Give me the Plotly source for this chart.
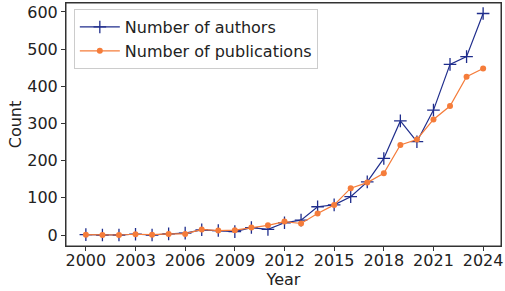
import plotly.graph_objects as go

years = list(range(2000, 2025))
authors = [1, 0, 0, 2, 0, 3, 5, 14, 12, 9, 20, 15, 33, 40, 76, 81, 103, 143, 206, 307, 251, 336, 459, 480, 596]
publications = [1, 0, 0, 2, 1, 3, 3, 15, 12, 13, 20, 26, 36, 31, 58, 81, 126, 141, 166, 242, 257, 311, 347, 426, 448]
xticks = [2000, 2003, 2006, 2009, 2012, 2015, 2018, 2021, 2024]
yticks = [0, 100, 200, 300, 400, 500, 600]

font = dict(family="DejaVu Sans", size=16, color="#222222")

fig = go.Figure()
fig.add_trace(go.Scatter(
    x=years, y=authors, mode="lines+markers", name="Number of authors",
    line=dict(color="#1f2d8c", width=1.2),
    marker=dict(symbol="cross-thin", size=9, line=dict(color="#1f2d8c", width=1.3)),
))
fig.add_trace(go.Scatter(
    x=years, y=publications, mode="lines+markers", name="Number of publications",
    line=dict(color="#f57c3a", width=1.2),
    marker=dict(symbol="circle", size=6, color="#f57c3a"),
))

axis_common = dict(
    showgrid=False, zeroline=False, showline=True, linecolor="#333333", linewidth=1,
    mirror=True, ticks="outside", ticklen=4, tickwidth=1, tickcolor="#333333",
    tickfont=font, title_font=font, ticklabeloverflow="allow",
)
fig.update_xaxes(range=[1998.8, 2025.08], tickvals=xticks, title_text="Year",
                 title_standoff=0, ticklabelstandoff=-4, **axis_common)
fig.update_yaxes(range=[-29.6, 624.2], tickvals=yticks, title_text="Count",
                 title_standoff=1, **axis_common)

fig.add_shape(type="rect", xref="paper", yref="paper", x0=0, y0=0, x1=1, y1=1,
              line=dict(color="#333333", width=1), layer="above")

fig.update_layout(
    width=505, height=291,
    margin=dict(l=66, r=2, t=3, b=45),
    plot_bgcolor="white", paper_bgcolor="white",
    font=font,
    showlegend=True,
    legend=dict(x=0.018, y=0.975, xanchor="left", yanchor="top",
                bgcolor="rgba(255,255,255,0.8)", bordercolor="#cccccc", borderwidth=1,
                font=dict(family="DejaVu Sans", size=16, color="#222222"),
                tracegroupgap=0, itemwidth=40),
)

fig.write_html("out.html", config={"displayModeBar": False},
               post_script="document.body.style.margin='0';document.body.style.overflow='hidden';")
